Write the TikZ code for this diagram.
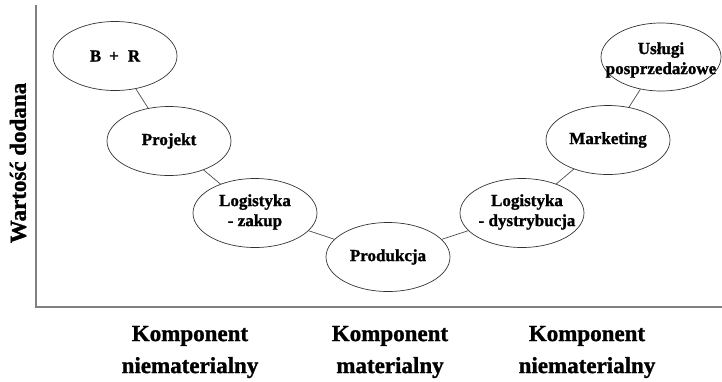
\documentclass[tikz,border=0pt]{standalone}
\usepackage{fontspec}
\setmainfont{Liberation Serif}[BoldFeatures={FakeBold=1.2}]
\usetikzlibrary{shapes.geometric}
\begin{document}
\begin{tikzpicture}[x=1pt,y=-1pt,
  stage/.style={ellipse,draw=black!80,line width=0.7pt,minimum width=124pt,minimum height=69pt,inner sep=0pt,fill=white},
  stagetext/.style={font=\bfseries\fontsize{17}{20}\selectfont,align=center,inner sep=0pt},
  link/.style={draw=black!70,line width=0.7pt},
  axisline/.style={draw=black!50,line width=2pt},
  biglabel/.style={font=\bfseries\fontsize{23}{32}\selectfont,align=center,inner sep=0pt}]
\useasboundingbox (0,0) rectangle (722,381);
% axes
\coordinate (top) at (36,5);
\coordinate (origin) at (36,306.5);
\coordinate (right) at (722,306.5);
\draw[axisline] (top) -- (origin) -- (right);
\node[biglabel,rotate=90] (ylab) at (18,163) {Wartość dodana};
% stages
\node[stage] (br) at (115,56) {};
\node[stage] (proj) at (169,141) {};
\node[stage] (logz) at (255,213) {};
\node[stage] (prod) at (388,257) {};
\node[stage] (logd) at (522,213) {};
\node[stage] (mark) at (608,140) {};
\node[stage,minimum width=120pt,minimum height=68pt] (usl) at (661,57) {};
\node[stagetext] (brt) at (br) {B\hspace{8pt}+\hspace{9pt}R};
\node[stagetext] (projt) at (proj) {Projekt};
\node[stagetext] (logzt) at ([yshift=1pt]logz) {Logistyka\\- zakup};
\node[stagetext] (prodt) at (prod) {Produkcja};
\node[stagetext] (logdt) at ([xshift=5pt,yshift=1pt]logd) {Logistyka\\- dystrybucja};
\node[stagetext] (markt) at (mark) {Marketing};
\node[stagetext] (uslt) at ([yshift=-3pt]usl) {Usługi\\posprzedażowe};
% links
\path[link] (br) -- (proj);
\path[link] (proj) -- (logz);
\path[link] (logz) -- (prod);
\path[link] (prod) -- (logd);
\path[link] (logd) -- (mark);
\path[link] (mark) -- (usl);
% bottom labels
\node[biglabel] (k1) at (190,352) {Komponent\\niematerialny};
\node[biglabel] (k2) at (390,352) {Komponent\\materialny};
\node[biglabel] (k3) at (587,352) {Komponent\\niematerialny};
\end{tikzpicture}
\end{document}
